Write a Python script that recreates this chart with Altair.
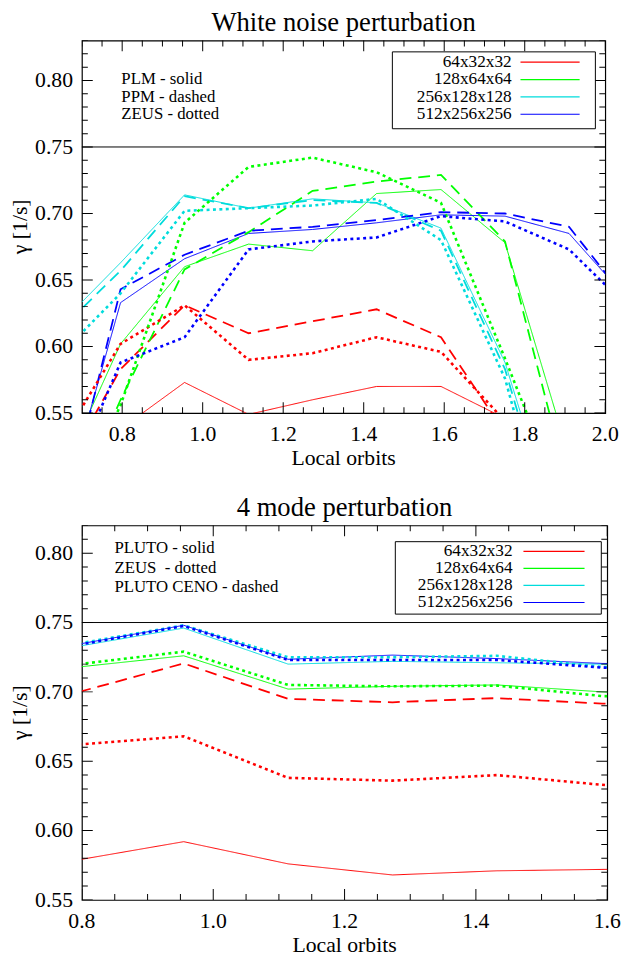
import altair as alt
import pandas as pd

FONT = "Liberation Serif"

resolutions = ["64x32x32", "128x64x64", "256x128x128", "512x256x256"]
res_colors = ["#ff0000", "#00ff00", "#00dcdc", "#0000ff"]
line_styles = ["solid", "dashed", "dotted"]
ref_level = 0.75
y_labels = [0.55, 0.60, 0.65, 0.70, 0.75, 0.80]

# White noise perturbation: growth rate (1/s) at each output time (local orbits)
wn_orbits = [0.637, 0.796, 0.955, 1.114, 1.273, 1.432, 1.592, 1.751, 1.910, 2.069]
wn_plm_64 = [0.500, 0.538, 0.573, 0.549, 0.560, 0.570, 0.570, 0.546, 0.520, 0.500]
wn_plm_128 = [0.496, 0.602, 0.660, 0.677, 0.672, 0.715, 0.718, 0.678, 0.517, 0.450]
wn_plm_256 = [0.614, 0.663, 0.714, 0.704, 0.711, 0.708, 0.689, 0.588, 0.432, 0.400]
wn_plm_512 = [0.462, 0.633, 0.666, 0.685, 0.688, 0.693, 0.699, 0.698, 0.685, 0.631]
wn_ppm_64 = [0.498, 0.583, 0.631, 0.610, 0.619, 0.628, 0.607, 0.535, 0.500, 0.480]
wn_ppm_128 = [0.450, 0.560, 0.658, 0.686, 0.717, 0.724, 0.729, 0.679, 0.493, 0.440]
wn_ppm_256 = [0.610, 0.657, 0.713, 0.704, 0.710, 0.708, 0.687, 0.583, 0.419, 0.390]
wn_ppm_512 = [0.448, 0.643, 0.669, 0.687, 0.690, 0.695, 0.701, 0.700, 0.690, 0.629]
wn_zeus_64 = [0.523, 0.602, 0.631, 0.590, 0.595, 0.607, 0.596, 0.544, 0.510, 0.490]
wn_zeus_128 = [0.450, 0.556, 0.693, 0.735, 0.742, 0.731, 0.708, 0.591, 0.470, 0.440]
wn_zeus_256 = [0.591, 0.640, 0.702, 0.704, 0.706, 0.711, 0.680, 0.576, 0.401, 0.380]
wn_zeus_512 = [0.476, 0.588, 0.607, 0.673, 0.679, 0.682, 0.698, 0.694, 0.673, 0.626]
wn_notes = ["PLM - solid", "PPM - dashed", "ZEUS - dotted"]

# 4 mode perturbation
m4_orbits = [0.796, 0.955, 1.114, 1.273, 1.432, 1.592, 1.751]
m4_pluto_64 = [0.579, 0.592, 0.576, 0.568, 0.571, 0.572, 0.573]
m4_pluto_128 = [0.718, 0.726, 0.702, 0.704, 0.705, 0.700, 0.695]
m4_pluto_256 = [0.733, 0.746, 0.720, 0.722, 0.721, 0.720, 0.719]
m4_pluto_512 = [0.7345, 0.748, 0.7235, 0.7265, 0.724, 0.7205, 0.720]
m4_zeus_64 = [0.662, 0.668, 0.638, 0.636, 0.640, 0.633, 0.626]
m4_zeus_128 = [0.720, 0.729, 0.705, 0.704, 0.7045, 0.697, 0.695]
m4_zeus_256 = [0.735, 0.748, 0.725, 0.725, 0.726, 0.718, 0.717]
m4_zeus_512 = [0.734, 0.7475, 0.723, 0.723, 0.723, 0.7175, 0.716]
m4_ceno_64 = [0.700, 0.7205, 0.695, 0.6925, 0.6955, 0.6915, 0.690]
m4_notes = ["PLUTO - solid", "ZEUS\u00a0 - dotted", "PLUTO CENO - dashed"]


def to_frame(orbits, series):
    rows = []
    for (res, style), vals in series.items():
        for o, g in zip(orbits, vals):
            rows.append({"orbit": o, "gamma": g, "res": res, "style": style})
    return pd.DataFrame(rows)


wn_df = to_frame(wn_orbits, {
    ("64x32x32", "solid"): wn_plm_64, ("128x64x64", "solid"): wn_plm_128,
    ("256x128x128", "solid"): wn_plm_256, ("512x256x256", "solid"): wn_plm_512,
    ("64x32x32", "dashed"): wn_ppm_64, ("128x64x64", "dashed"): wn_ppm_128,
    ("256x128x128", "dashed"): wn_ppm_256, ("512x256x256", "dashed"): wn_ppm_512,
    ("64x32x32", "dotted"): wn_zeus_64, ("128x64x64", "dotted"): wn_zeus_128,
    ("256x128x128", "dotted"): wn_zeus_256, ("512x256x256", "dotted"): wn_zeus_512,
})
m4_df = to_frame(m4_orbits, {
    ("64x32x32", "solid"): m4_pluto_64, ("128x64x64", "solid"): m4_pluto_128,
    ("256x128x128", "solid"): m4_pluto_256, ("512x256x256", "solid"): m4_pluto_512,
    ("64x32x32", "dotted"): m4_zeus_64, ("128x64x64", "dotted"): m4_zeus_128,
    ("256x128x128", "dotted"): m4_zeus_256, ("512x256x256", "dotted"): m4_zeus_512,
    ("64x32x32", "dashed"): m4_ceno_64,
})


def ticks(lo, hi, minor, major, n):
    vals = [round(lo + i * minor, 3) for i in range(n)]
    vals = [v for v in vals if v <= hi + 1e-9]
    lens = [22 if abs(v / major - round(v / major)) < 1e-6 else 12 for v in vals]
    return pd.DataFrame({"v": vals, "len": lens})


def legend_layers(box_x, box_y, label_right, line_x, row0, row_step):
    """IDL-style legend: right-aligned labels followed by a short sample line."""
    one = pd.DataFrame({"n": [0]})
    layers = [alt.Chart(one).mark_rect(fill="white", stroke="black", strokeWidth=1).encode(
        x=alt.value(box_x[0]), x2=alt.value(box_x[1]),
        y=alt.value(box_y[0]), y2=alt.value(box_y[1]))]
    for i, (res, col) in enumerate(zip(resolutions, res_colors)):
        yy = row0 + i * row_step
        layers.append(alt.Chart(one).mark_text(
            text=res, align="right", baseline="middle", font=FONT, fontSize=17.5,
            color="black").encode(x=alt.value(label_right), y=alt.value(yy)))
        layers.append(alt.Chart(one).mark_rule(color=col, strokeWidth=1.2).encode(
            x=alt.value(line_x[0]), x2=alt.value(line_x[1]), y=alt.value(yy)))
    return layers


def panel(df, title, x_dom, y_dom, x_labels, notes, note_xy, note_lh, leg, w, h):
    xs = alt.Scale(domain=x_dom, nice=False, zero=False)
    ys = alt.Scale(domain=y_dom, nice=False, zero=False)
    one = pd.DataFrame({"n": [0]})

    lines = alt.Chart(df).mark_line(clip=True).encode(
        x=alt.X("orbit:Q", scale=xs, axis=None),
        y=alt.Y("gamma:Q", scale=ys, axis=None),
        color=alt.Color("res:N", scale=alt.Scale(domain=resolutions, range=res_colors),
                        legend=None),
        strokeDash=alt.StrokeDash("style:N", scale=alt.Scale(
            domain=line_styles, range=[[1, 0], [12, 7], [3, 3.5]]), legend=None),
        strokeWidth=alt.StrokeWidth("style:N", scale=alt.Scale(
            domain=line_styles, range=[1, 2.6, 3]), legend=None),
    )

    hline = alt.Chart(pd.DataFrame({"g": [ref_level]})).mark_rule(
        color="black", strokeWidth=1).encode(y=alt.Y("g:Q", scale=ys, axis=None))

    # IDL-style inward ticks on all four sides
    xt = ticks(x_dom[0], x_dom[1], 0.05, 0.2, 40)
    yt = ticks(y_dom[0], y_dom[1], 0.01, 0.05, 40)
    tick_x = alt.Chart(xt).mark_tick(clip=True, color="black", thickness=1, opacity=1).encode(
        x=alt.X("v:Q", scale=xs, axis=None), size=alt.Size("len:Q", scale=None, legend=None))
    tick_y = alt.Chart(yt).mark_tick(clip=True, color="black", thickness=1, opacity=1).encode(
        y=alt.Y("v:Q", scale=ys, axis=None), size=alt.Size("len:Q", scale=None, legend=None))

    # tick labels and axis titles, placed through the same scales
    x_lab = alt.Chart(pd.DataFrame({"v": x_labels})).mark_text(
        font=FONT, fontSize=22, baseline="top", align="center", color="black").encode(
        x=alt.X("v:Q", scale=xs, axis=None), y=alt.value(h + 11),
        text=alt.Text("v:Q", format=".1f"))
    y_lab = alt.Chart(pd.DataFrame({"v": y_labels})).mark_text(
        font=FONT, fontSize=22, baseline="middle", align="right", color="black").encode(
        y=alt.Y("v:Q", scale=ys, axis=None), x=alt.value(-9),
        text=alt.Text("v:Q", format=".2f"))
    x_title = alt.Chart(one).mark_text(
        text="Local orbits", font=FONT, fontSize=22, baseline="top", align="center",
        color="black").encode(x=alt.value(w / 2), y=alt.value(h + 36))
    y_title = alt.Chart(one).mark_text(
        text="γ [1/s]", font=FONT, fontSize=22, angle=270, baseline="middle",
        align="center", color="black").encode(x=alt.value(-63), y=alt.value(h / 2))

    note = alt.Chart(one).mark_text(
        text=notes, align="left", baseline="top", font=FONT, fontSize=17,
        lineHeight=note_lh, color="black").encode(
        x=alt.value(note_xy[0]), y=alt.value(note_xy[1]))

    return alt.layer(
        lines, hline,
        tick_x.encode(y=alt.value(0)), tick_x.encode(y=alt.value(h)),
        tick_y.encode(x=alt.value(0)), tick_y.encode(x=alt.value(w)),
        x_lab, y_lab, x_title, y_title,
        note, *legend_layers(*leg),
    ).properties(
        width=w, height=h,
        title=alt.TitleParams(title, font=FONT, fontSize=27, fontWeight="normal",
                              color="black", offset=4),
    )


top = panel(wn_df, "White noise perturbation", [0.7, 2.0], [0.55, 0.83],
            [0.8, 1.0, 1.2, 1.4, 1.6, 1.8, 2.0], wn_notes, (40, 31), 18,
            ((315, 521), (11.5, 89.5), 436, (445, 505), 22, 17.6), 531, 378)
bottom = panel(m4_df, "4 mode perturbation", [0.8, 1.6], [0.55, 0.82],
               [0.8, 1.0, 1.2, 1.4, 1.6], m4_notes, (33, 15), 20,
               ((318, 527), (16.5, 90), 437, (448, 510), 26.3, 17.3), 533, 380)

chart = alt.vconcat(top, bottom, spacing=23).properties(
    padding={"top": -7, "left": 0, "right": 0, "bottom": 0}
).configure(
    font=FONT
).configure_view(
    stroke="black", strokeWidth=1.2
)

chart.save("out.html", embed_options={"renderer": "svg", "actions": False})
